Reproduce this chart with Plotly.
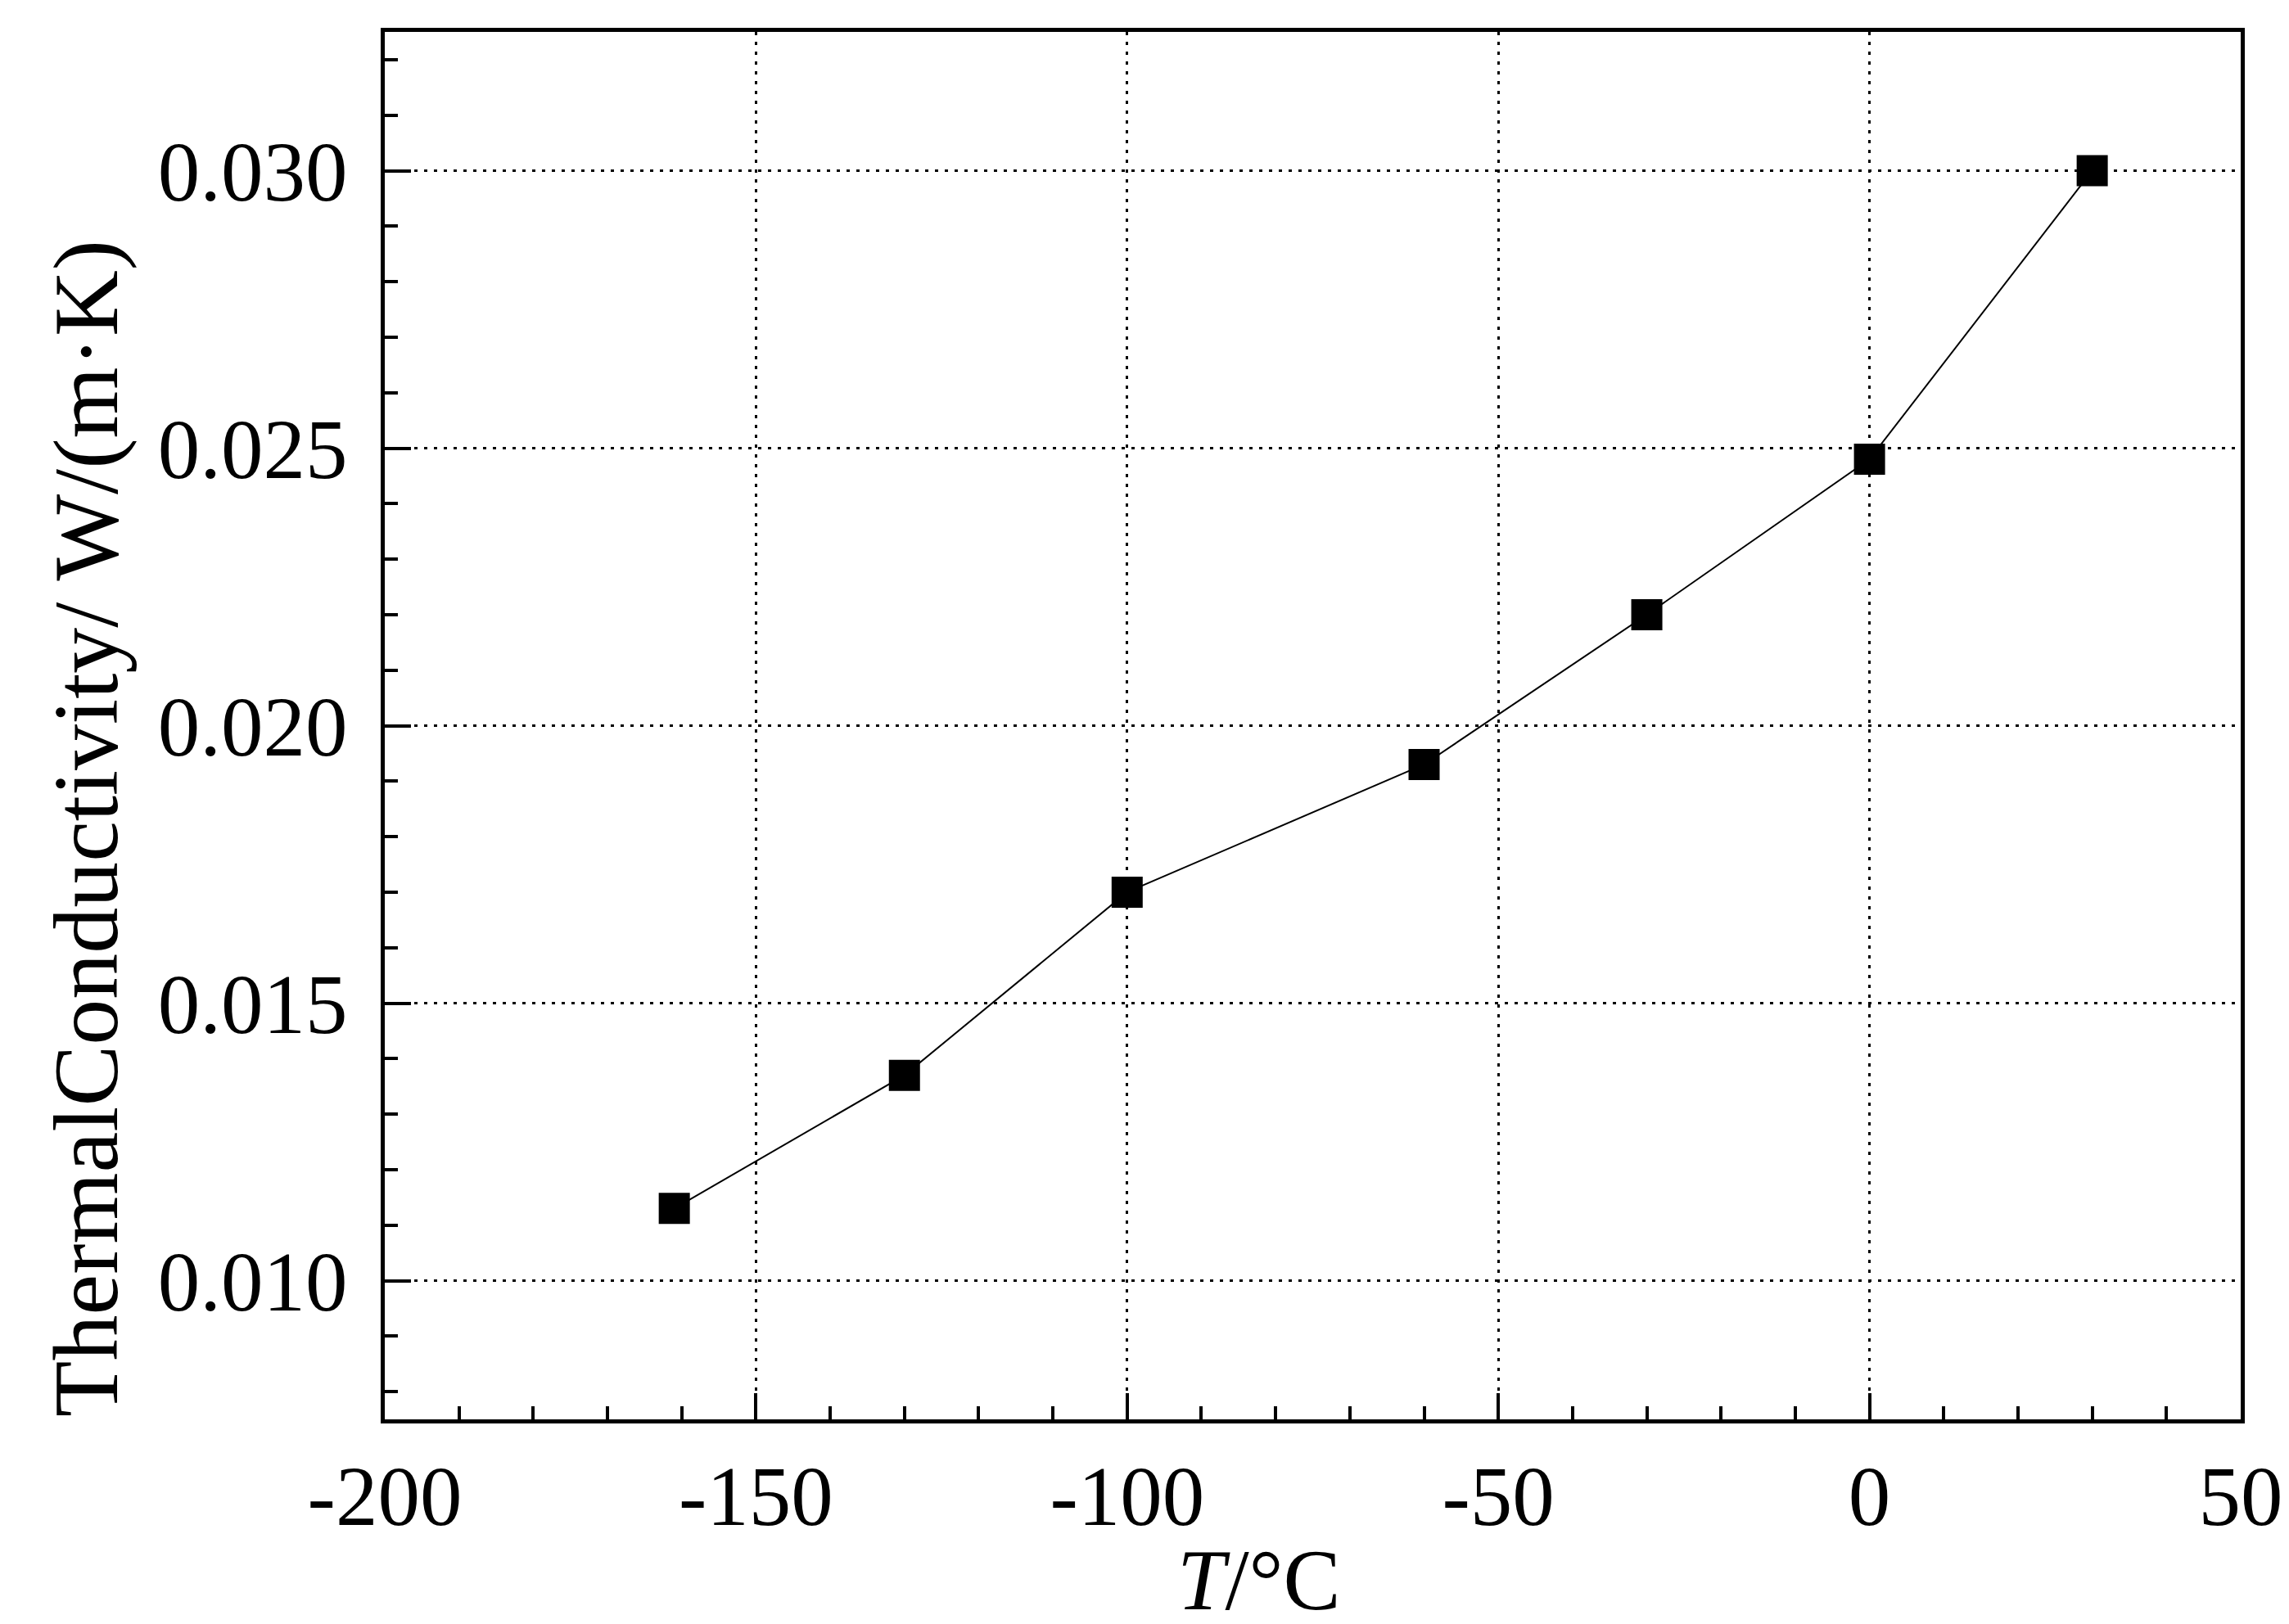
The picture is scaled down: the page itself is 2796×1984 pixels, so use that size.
import plotly.graph_objects as go

# dados
temperatura = [-161, -130, -100, -60, -30, 0, 30]
condutividade = [0.0113, 0.0137, 0.0170, 0.0193, 0.0220, 0.0248, 0.0300]

x_ticks = [-200, -150, -100, -50, 0, 50]
x_ticktext = ["-200", "-150", "-100", "-50", "0", "50"]
y_ticks = [0.010, 0.015, 0.020, 0.025, 0.030]
y_ticktext = ["0.010", "0.015", "0.020", "0.025", "0.030"]

titulo_x = "<i>T</i>/°C"
titulo_y = "ThermalConductivity/ W/(m·K)"

fonte = "Liberation Serif"

fig = go.Figure()

fig.add_trace(go.Scatter(
    x=temperatura,
    y=condutividade,
    mode='lines+markers',
    marker=dict(color='black', size=38, symbol='square'),
    line=dict(color='black', width=2),
    showlegend=False,
))

# estilo dos eixos (caixa fechada, ticks para dentro, grade pontilhada)
eixo = dict(
    showline=True,
    linecolor='black',
    linewidth=5,
    mirror=True,
    ticks='inside',
    ticklen=32,
    tickwidth=4,
    tickcolor='black',
    showgrid=True,
    gridcolor='black',
    gridwidth=3,
    griddash='4px,8px',
    zeroline=False,
    tickfont=dict(family=fonte, size=103, color='black'),
)

fig.update_xaxes(
    **eixo,
    range=[-200, 50],
    tickvals=x_ticks,
    ticktext=x_ticktext,
    minor=dict(ticks='inside', ticklen=16, tickwidth=4, tickcolor='black', dtick=10, showgrid=False),
)

fig.update_yaxes(
    **eixo,
    range=[0.0075, 0.0325],
    tickvals=y_ticks,
    ticktext=y_ticktext,
    ticklabelstandoff=20,
    minor=dict(ticks='inside', ticklen=16, tickwidth=4, tickcolor='black', dtick=0.001, tick0=0.010, showgrid=False),
)

# títulos dos eixos como anotações para acertar a posição
fig.add_annotation(
    text=titulo_x, xref='paper', yref='paper', x=0.471, y=-0.1510,
    showarrow=False, xanchor='center', yanchor='bottom', borderpad=0,
    font=dict(family=fonte, size=105, color='black'),
)
fig.add_annotation(
    text=titulo_y, xref='paper', yref='paper', x=-0.161, y=0.426,
    showarrow=False, xanchor='center', yanchor='middle', textangle=-90,
    font=dict(family=fonte, size=112, color='black'),
)

fig.update_layout(
    width=2796,
    height=1984,
    autosize=False,
    margin=dict(l=462, r=67, t=31, b=258),
    plot_bgcolor='white',
    paper_bgcolor='white',
)

fig.write_html("out.html")
